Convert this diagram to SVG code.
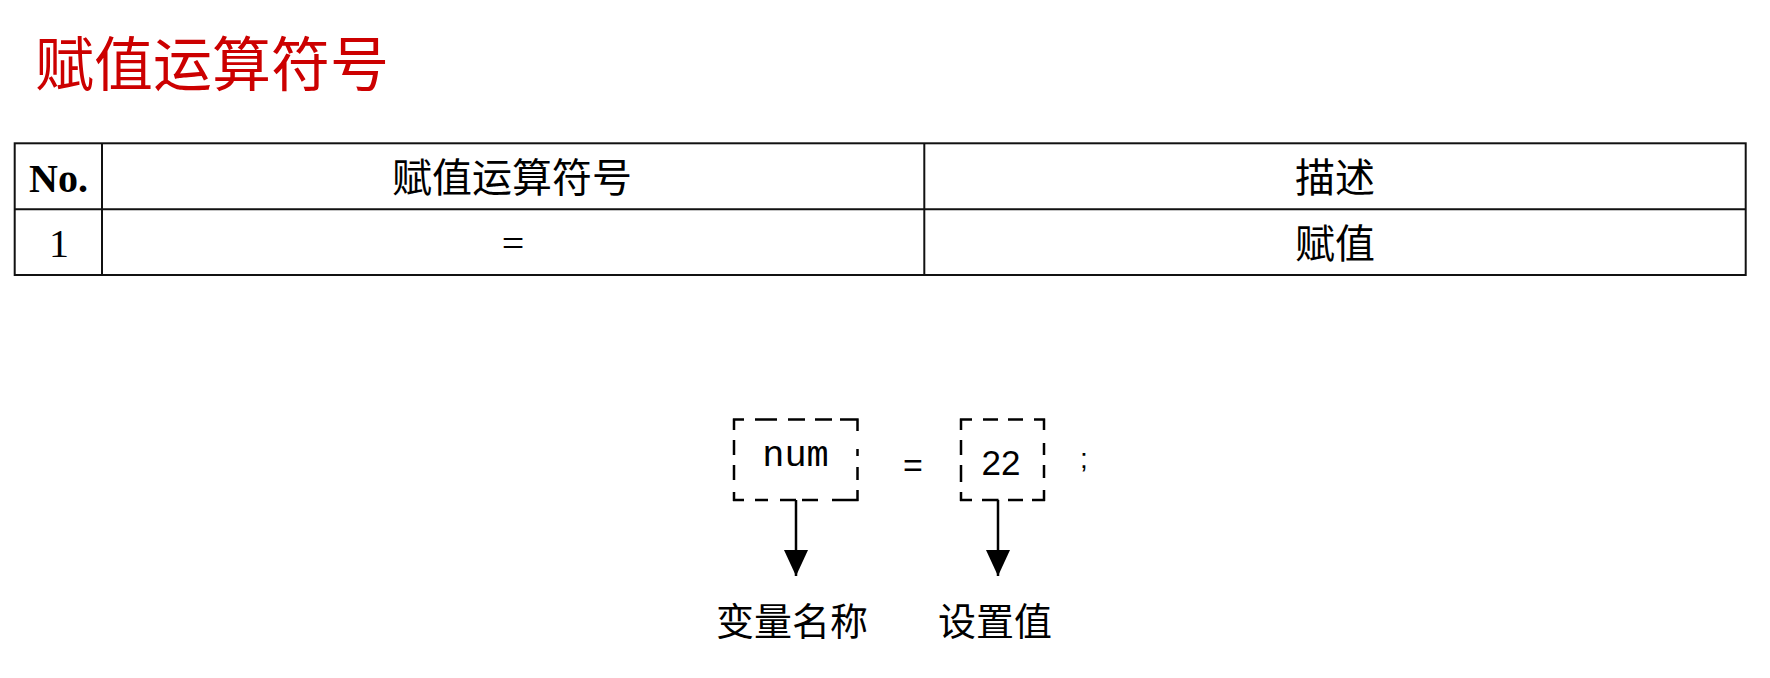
<svg xmlns="http://www.w3.org/2000/svg" width="1770" height="678" viewBox="0 0 1770 678">
<style>
.title{font-family:"Liberation Serif","Noto Sans CJK SC",serif;font-size:59px;fill:#cc0000}
.cjk{font-family:"Liberation Serif","Noto Sans CJK SC",serif;font-size:40px;fill:#000;text-anchor:middle}
.lat{font-family:"Liberation Serif",serif;font-size:40px;fill:#000;text-anchor:middle}
.grid{stroke:#111;stroke-width:2;fill:none}
.dash{stroke:#000;stroke-width:2.5;fill:none}
.mono{font-family:"Liberation Mono",monospace;font-size:37px;fill:#000;text-anchor:middle}
.sans{font-family:"Liberation Sans",sans-serif;fill:#000;text-anchor:middle}
.lbl{font-family:"Noto Sans CJK SC",sans-serif;font-size:38px;font-weight:normal;fill:#000;text-anchor:middle}
.conn{stroke:#000;stroke-width:2.5;fill:none;marker-end:url(#arr)}
</style>
<defs>
<marker id="arr" markerUnits="userSpaceOnUse" markerWidth="26" markerHeight="24" refX="26" refY="12" orient="auto">
<path d="M0,0 L26,12 L0,24 z" fill="#000"/>
</marker>
</defs>
<rect width="1770" height="678" fill="#fff"/>
<text class="title" x="35" y="86">赋值运算符号</text>

<g id="table">
<rect class="grid" x="14.7" y="143.3" width="1731" height="131.7"/>
<line class="grid" x1="14.7" y1="209.3" x2="1745.7" y2="209.3"/>
<line class="grid" x1="102" y1="143.3" x2="102" y2="275"/>
<line class="grid" x1="924.3" y1="143.3" x2="924.3" y2="275"/>
<text class="lat" x="58.5" y="192" font-weight="bold">No.</text>
<text class="cjk" x="512" y="192">赋值运算符号</text>
<text class="cjk" x="1335" y="192">描述</text>
<text class="lat" x="59" y="257">1</text>
<text class="lat" x="513" y="257">=</text>
<text class="cjk" x="1335" y="258">赋值</text>
</g>

<g id="node-num">
<path class="dash" d="M733 419.5 H744 M755 419.5 H777 M788 419.5 H805 M815 419.5 H832 M840 419.5 H858.5 M734 418.5 V430 M734 440 V455 M734 465 V480 M734 492 V501 M733 500 H744 M755 500 H768 M780 500 H796 M802 500 H818 M832 500 H858.5 M857.5 418.5 V431 M857.5 449 V456 M857.5 467 V480 M857.5 490 V501"/>
<text class="mono" x="795.5" y="466">num</text>
</g>

<g id="node-eq">
<text class="sans" x="913" y="477" font-size="34">=</text>
</g>

<g id="node-22">
<path class="dash" d="M960 419.5 H972 M983 419.5 H998 M1008 419.5 H1023 M1034 419.5 H1045 M961 418.5 V430 M961 440 V455 M961 465 V482 M961 492 V501 M960 500 H972 M982 500 H998.5 M1008 500 H1023 M1032 500 H1045 M1044 418.5 V430 M1044 443 V455 M1044 465 V478 M1044 490 V501"/>
<text class="sans" x="1001" y="475" font-size="35">22</text>
</g>

<g id="node-semi">
<text class="sans" x="1084" y="468" font-size="28" fill="#333">;</text>
</g>

<g id="node-label-name">
<text class="lbl" x="792" y="635">变量名称</text>
</g>
<g id="node-label-value">
<text class="lbl" x="995" y="635">设置值</text>
</g>

<g id="connectors">
<path class="conn" d="M796 500 V576"/>
<path class="conn" d="M998 500 V576"/>
</g>
</svg>
